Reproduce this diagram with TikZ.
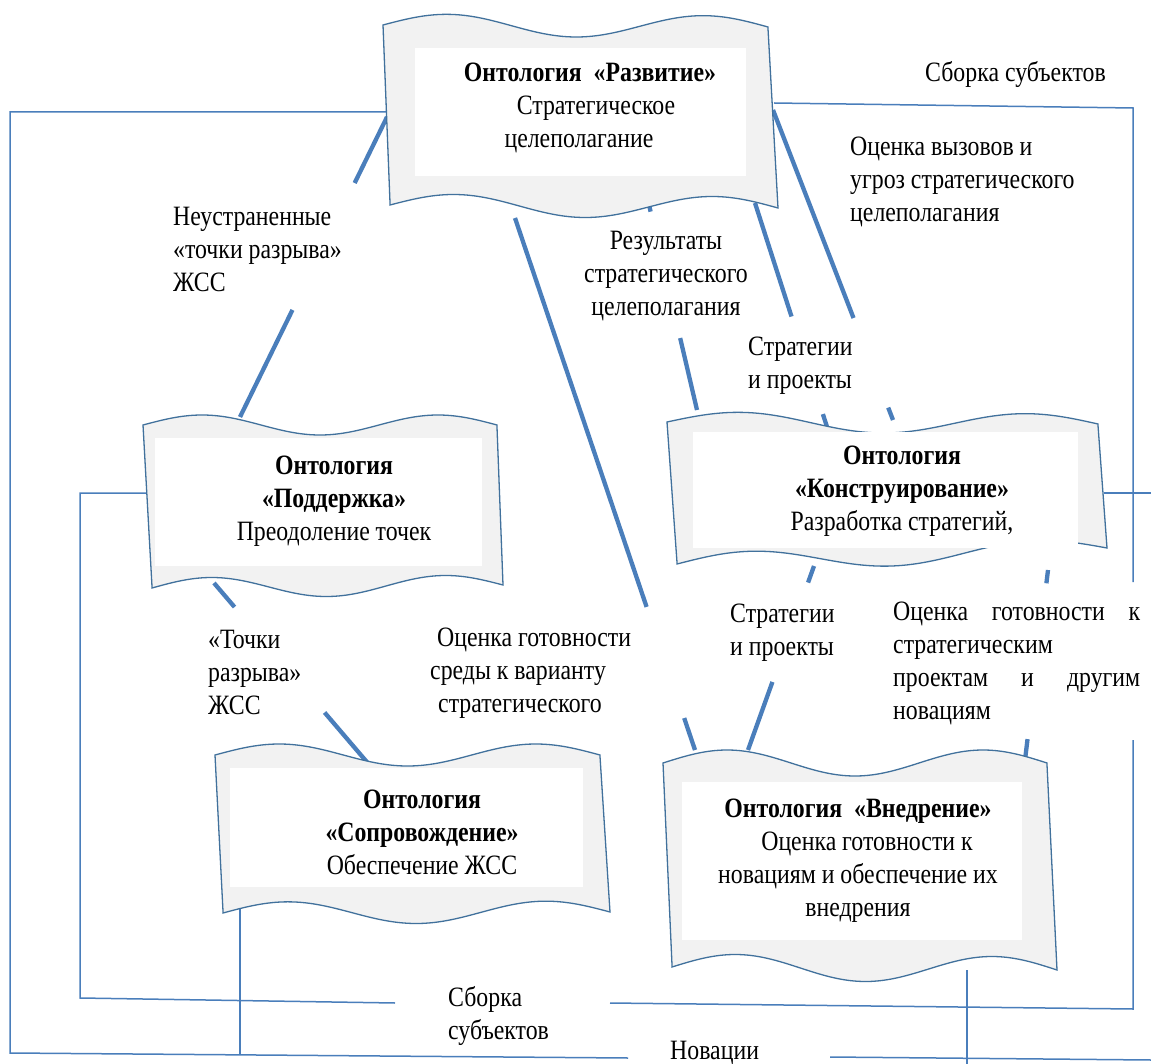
\documentclass[tikz,border=0pt]{standalone}
\usepackage{fontspec}
\setmainfont{Liberation Serif}[FakeStretch=0.85]
\usetikzlibrary{calc}
\definecolor{lineblue}{HTML}{4A7EBB}
\definecolor{edgeblue}{HTML}{41719C}
\definecolor{shapefill}{HTML}{F2F2F2}
% #1 xLt #2 xRt #3 yTL #4 yTR #5 xLb #6 xRb #7 yBL #8 yBR #9 amplitude
\newcommand\wavebox[9]{%
  \path[waveshape] plot[domain=0:1,samples=61,smooth] ({#1+\x*(#2-#1)},{#3+\x*(#4-#3)-#9*sin(540*\x)})
    -- plot[domain=1:0,samples=61,smooth] ({#5+\x*(#6-#5)},{#7+\x*(#8-#7)-#9*sin(540*\x)}) -- cycle;}
\begin{document}
\begin{tikzpicture}[x=1pt,y=-1pt,
  conn/.style={draw=lineblue,line width=4.3pt},
  thinline/.style={draw=lineblue,line width=1.5pt},
  waveshape/.style={draw=edgeblue,line width=1.3pt,fill=shapefill},
  inbox/.style={fill=white,inner sep=0pt},
  boxtext/.style={align=center,inner sep=0pt,font=\fontsize{28}{33}\selectfont},
  lbl/.style={align=left,inner sep=0pt,anchor=west,font=\fontsize{28}{33}\selectfont}]
\useasboundingbox[fill=white] (0,0) rectangle (1151,1064);

% ---- thin lines (assembly of subjects) ----
\coordinate (p1a) at (386,112); \coordinate (p1b) at (10,112);
\coordinate (p1c) at (10,1053); \coordinate (p1d) at (628,1058);
\draw[thinline] (p1a) -- (p1b) -- (p1c) -- (p1d);
\coordinate (p2a) at (240,905); \coordinate (p2b) at (240,1055);
\draw[thinline] (p2a) -- (p2b);
\coordinate (p3a) at (150,493); \coordinate (p3b) at (80,493);
\coordinate (p3c) at (80,998); \coordinate (p3d) at (395,1003);
\draw[thinline] (p3a) -- (p3b) -- (p3c) -- (p3d);
\coordinate (p4a) at (774,103); \coordinate (p4b) at (1133,108);
\coordinate (p4c) at (1133,582);
\draw[thinline] (p4a) -- (p4b) -- (p4c);
\coordinate (p5a) at (1133,740); \coordinate (p5b) at (1133,1009);
\coordinate (p5c) at (610,1003);
\draw[thinline] (p5a) -- (p5b) -- (p5c);
\coordinate (p6a) at (1104,493); \coordinate (p6b) at (1151,493);
\draw[thinline] (p6a) -- (p6b);
\coordinate (p7a) at (967,970); \coordinate (p7b) at (967,1064);
\draw[thinline] (p7a) -- (p7b);
\coordinate (p8a) at (830,1057); \coordinate (p8b) at (1151,1060);
\draw[thinline] (p8a) -- (p8b);

% ---- thick connectors ----
\coordinate (c1a) at (387,117); \coordinate (c1b) at (240,417);
\draw[conn] (c1a) -- ($(c1a)!0.22!(c1b)$) ($(c1a)!0.643!(c1b)$) -- (c1b);
\coordinate (c2a) at (214,583); \coordinate (c2b) at (372,768);
\draw[conn] (c2a) -- ($(c2a)!0.13!(c2b)$) ($(c2a)!0.70!(c2b)$) -- (c2b);
\coordinate (c3a) at (515,218); \coordinate (c3b) at (695,750);
\draw[conn] (c3a) -- ($(c3a)!0.731!(c3b)$) ($(c3a)!0.94!(c3b)$) -- (c3b);
\coordinate (c4a) at (646,192); \coordinate (c4b) at (697,410);
\draw[conn] (c4a) -- ($(c4a)!0.09!(c4b)$) ($(c4a)!0.67!(c4b)$) -- (c4b);
\coordinate (c5a) at (755,203); \coordinate (c5b) at (828,430);
\draw[conn] (c5a) -- ($(c5a)!0.50!(c5b)$) ($(c5a)!0.93!(c5b)$) -- (c5b);
\coordinate (c6a) at (773,110); \coordinate (c6b) at (893,420);
\draw[conn] (c6a) -- ($(c6a)!0.671!(c6b)$) ($(c6a)!0.96!(c6b)$) -- (c6b);
\coordinate (c7a) at (814,566); \coordinate (c7b) at (748,750);
\draw[conn] (c7a) -- ($(c7a)!0.09!(c7b)$) ($(c7a)!0.63!(c7b)$) -- (c7b);
\coordinate (c8a) at (1048,570); \coordinate (c8b) at (1025,760);
\draw[conn] (c8a) -- ($(c8a)!0.07!(c8b)$) ($(c8a)!0.89!(c8b)$) -- (c8b);

% ---- wave shapes ----
\wavebox{383}{768}{25}{27}{390}{778}{205}{208}{11}
\wavebox{143}{497}{425}{425}{152}{503}{588}{585}{10}
\wavebox{667}{1098}{422}{424}{677}{1107}{564}{548}{10}
\wavebox{215}{600}{755}{755}{223}{610}{913}{912}{11}
\wavebox{663}{1047}{763}{763}{672}{1057}{967}{970}{13}

\node[inbox,minimum width=331pt,minimum height=128pt] (devbox) at (580.5,112) {};
\node[inbox,minimum width=327pt,minimum height=128pt] (supbox) at (318.5,502) {};
\node[inbox,minimum width=385pt,minimum height=116pt] (conbox) at (885.5,490) {};
\node[inbox,minimum width=353pt,minimum height=119pt] (accbox) at (406.5,827.5) {};
\node[inbox,minimum width=340pt,minimum height=158pt] (impbox) at (852,861) {};

\node[boxtext] (devtxt) at (590,108) {{\bfseries Онтология\ \ «Развитие»}\\\hspace*{12pt}Стратегическое\\целеполагание\hspace*{22pt}};
\node[boxtext] (suptxt) at (334,501) {{\bfseries Онтология}\\{\bfseries «Поддержка»}\hspace*{42pt}\\Преодоление точек};
\node[boxtext] (contxt) at (902,491) {{\bfseries Онтология}\\{\bfseries «Конструирование»}\hspace*{36pt}\\Разработка стратегий,};
\node[boxtext] (acctxt) at (422,832) {{\bfseries Онтология}\\{\bfseries «Сопровождение»}\hspace*{32pt}\\Обеспечение ЖСС};
\node[boxtext] (imptxt) at (858,861) {{\bfseries Онтология\ \ «Внедрение»}\\\hspace*{18pt}Оценка готовности к\\новациям и обеспечение их\\внедрения};

% ---- labels ----
\node[lbl] (l1) at (173,249) {Неустраненные\\«точки разрыва»\\ЖСС};
\node[lbl] (l2) at (208,672) {«Точки\\разрыва»\\ЖСС};
\node[lbl] (l3) at (430,673) {\hspace*{7pt}Оценка готовности\\среды к варианту\\\hspace*{8pt}стратегического};
\node[boxtext] (l4) at (666,276) {Результаты\\стратегического\\целеполагания};
\node[lbl] (l5) at (748,366) {Стратегии\\и проекты};
\node[lbl] (l6) at (850,182) {Оценка вызовов и\\угроз стратегического\\целеполагания};
\node[lbl] (l7) at (925,75) {Сборка субъектов};
\node[lbl] (l8) at (730,633) {Стратегии\\и проекты};
\node[lbl,text width=247pt] (l9) at (893,663) {Оценка\hfill готовности\hfill к\\стратегическим\\проектам\hfill и\hfill другим\\новациям};
\node[lbl] (l10) at (448,1016) {Сборка\\субъектов};
\node[lbl] (l11) at (670,1053) {Новации};
\end{tikzpicture}
\end{document}
